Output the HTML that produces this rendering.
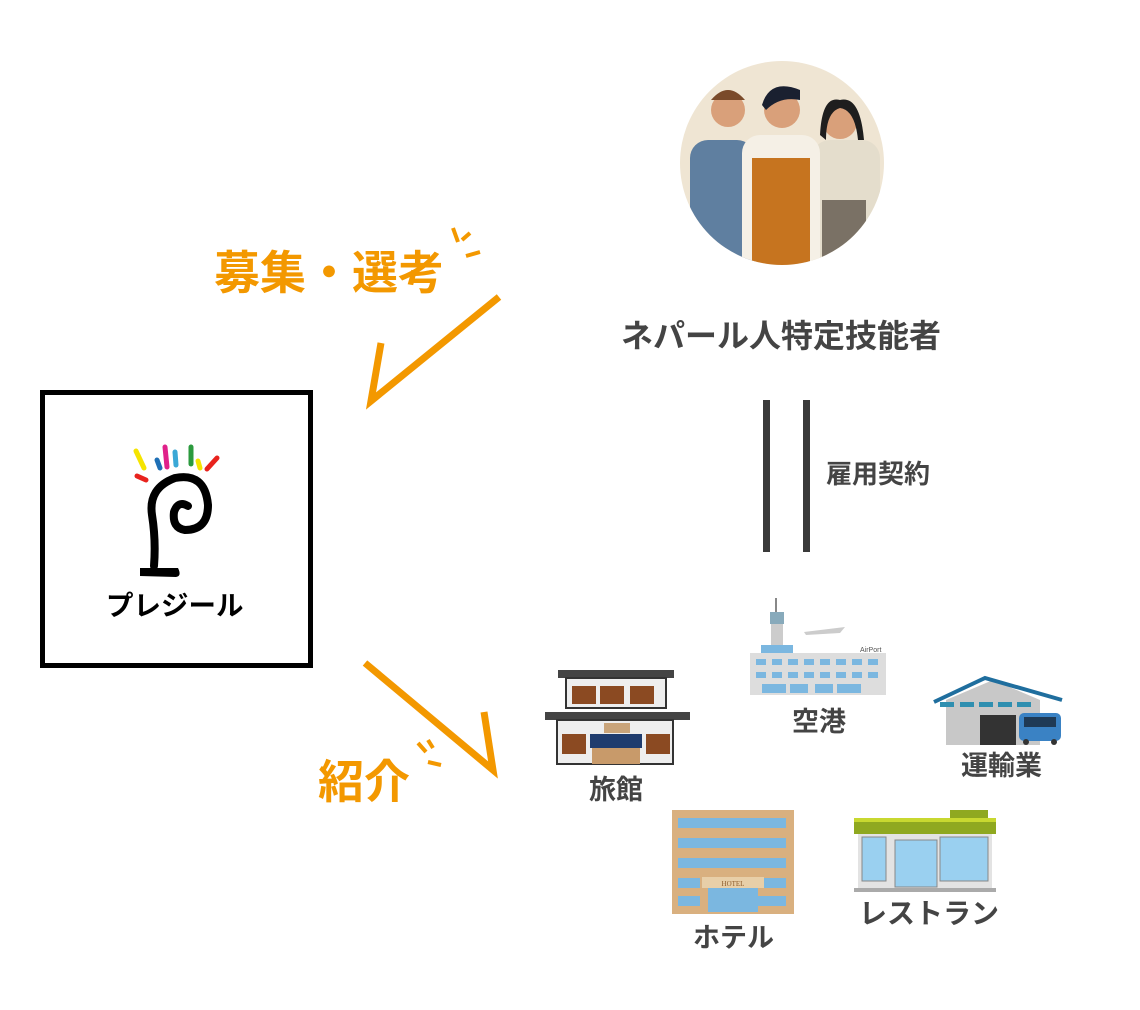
<!DOCTYPE html>
<html><head><meta charset="utf-8"><style>
html,body{margin:0;padding:0;background:#fff;}
body{width:1140px;height:1010px;position:relative;overflow:hidden;font-family:"Liberation Sans","Noto Sans CJK JP",sans-serif;}
.t{position:absolute;font-weight:bold;white-space:nowrap;line-height:1.2;}
</style></head><body>
<svg width="1140" height="1010" style="position:absolute;left:0;top:0">
<rect x="42.5" y="392.5" width="268" height="273" fill="none" stroke="#000" stroke-width="5"/>
<g stroke-linecap="round" stroke-width="5">
<line x1="136" y1="451" x2="144" y2="468" stroke="#f5e400"/>
<line x1="137" y1="476" x2="146" y2="480" stroke="#e8231d"/>
<line x1="157" y1="460" x2="160" y2="468" stroke="#1e6fb5"/>
<line x1="165" y1="447" x2="167" y2="467" stroke="#e0218a"/>
<line x1="175" y1="452" x2="176" y2="465" stroke="#3aa8d6"/>
<line x1="191" y1="447" x2="191" y2="464" stroke="#2b9a3e"/>
<line x1="198" y1="461" x2="200" y2="468" stroke="#f5e400"/>
<line x1="217" y1="458" x2="207" y2="469" stroke="#e8231d"/>
</g>
<path d="M154 566 Q156 540 152 515 Q148 488 175 478 Q205 472 208 505 Q208 530 185 530 Q172 528 174 512 Q178 500 188 506" fill="none" stroke="#000" stroke-width="8" stroke-linecap="round"/>
<path d="M140 568 L178 568 Q182 576 176 577 L140 576 Z" fill="#000"/>
<polyline points="381,343 371,401 499,297" fill="none" stroke="#f39800" stroke-width="7"/>
<polyline points="365,663 493,770 484,712" fill="none" stroke="#f39800" stroke-width="7"/>
<g stroke="#f39800" stroke-width="4">
<line x1="453" y1="228" x2="458" y2="242"/><line x1="462" y1="240" x2="470" y2="233"/><line x1="466" y1="256" x2="480" y2="252"/>
<line x1="418" y1="743" x2="426" y2="752"/><line x1="428" y1="740" x2="433" y2="748"/><line x1="428" y1="762" x2="441" y2="765"/>
</g>
<rect x="763" y="400" width="7" height="152" fill="#3a3a3a"/>
<rect x="803" y="400" width="7" height="152" fill="#3a3a3a"/>
<clipPath id="c"><circle cx="782" cy="163" r="102"/></clipPath>
<circle cx="782" cy="163" r="102" fill="#efe5d3"/>
<g clip-path="url(#c)">
<rect x="690" y="140" width="65" height="140" rx="18" fill="#5f7fa0"/>
<circle cx="728" cy="110" r="17" fill="#d9a07a"/><path d="M711 100 Q728 80 745 100 Z" fill="#7a4a2a"/>
<rect x="812" y="140" width="68" height="140" rx="18" fill="#e4ddcc"/>
<rect x="822" y="200" width="44" height="80" fill="#7a7165"/>
<circle cx="840" cy="122" r="17" fill="#d9a07a"/><path d="M820 135 Q822 95 840 100 Q860 95 864 140 L858 140 Q855 110 840 108 Q826 112 826 140 Z" fill="#1e1e1e"/>
<rect x="742" y="135" width="78" height="140" rx="18" fill="#f5f0e6"/>
<rect x="752" y="158" width="58" height="120" fill="#c6741f"/>
<circle cx="782" cy="110" r="18" fill="#d9a07a"/><path d="M762 105 Q770 78 800 90 L800 100 Q780 96 766 110 Z" fill="#1a2030"/>
</g>
<g>
<rect x="558" y="670" width="116" height="8" fill="#444"/>
<rect x="566" y="678" width="100" height="30" fill="#eee" stroke="#333" stroke-width="2"/>
<g fill="#8b4a22"><rect x="572" y="686" width="24" height="18"/><rect x="600" y="686" width="24" height="18"/><rect x="630" y="686" width="24" height="18"/></g>
<rect x="545" y="712" width="145" height="8" fill="#444"/>
<rect x="557" y="720" width="116" height="44" fill="#eee" stroke="#333" stroke-width="2"/>
<rect x="590" y="734" width="52" height="14" fill="#1f3c6e"/>
<rect x="592" y="748" width="48" height="16" fill="#c89a6a"/>
<rect x="604" y="723" width="26" height="10" fill="#c9a47a"/>
<g fill="#8b4a22"><rect x="562" y="734" width="24" height="20"/><rect x="646" y="734" width="24" height="20"/></g>
</g>
<g>
<line x1="776" y1="598" x2="776" y2="612" stroke="#888" stroke-width="2"/>
<rect x="770" y="612" width="14" height="12" fill="#8ab"/><rect x="771" y="624" width="12" height="26" fill="#ccc"/>
<rect x="761" y="645" width="32" height="8" fill="#7bb7e0"/>
<path d="M804 632 L845 627 L840 633 L806 635 Z" fill="#ccc"/>
<rect x="750" y="653" width="136" height="42" fill="#ddd"/>
<g fill="#7bb7e0"><rect x="756" y="659" width="10" height="6"/><rect x="772" y="659" width="10" height="6"/><rect x="788" y="659" width="10" height="6"/><rect x="804" y="659" width="10" height="6"/><rect x="820" y="659" width="10" height="6"/><rect x="836" y="659" width="10" height="6"/><rect x="852" y="659" width="10" height="6"/><rect x="868" y="659" width="10" height="6"/>
<rect x="756" y="672" width="10" height="6"/><rect x="772" y="672" width="10" height="6"/><rect x="788" y="672" width="10" height="6"/><rect x="804" y="672" width="10" height="6"/><rect x="820" y="672" width="10" height="6"/><rect x="836" y="672" width="10" height="6"/><rect x="852" y="672" width="10" height="6"/><rect x="868" y="672" width="10" height="6"/>
<rect x="762" y="684" width="24" height="9"/><rect x="790" y="684" width="18" height="9"/><rect x="815" y="684" width="18" height="9"/><rect x="837" y="684" width="24" height="9"/></g>
<text x="860" y="652" font-size="7" fill="#555" font-family="Liberation Sans">AirPort</text>
</g>
<g>
<path d="M946 700 L993 680 L1040 700 L1040 745 L946 745 Z" fill="#c8c8c8"/>
<polyline points="934,702 985,678 1062,700" fill="none" stroke="#1f6e9e" stroke-width="4"/>
<g fill="#2f8fb0"><rect x="940" y="702" width="14" height="5"/><rect x="960" y="702" width="14" height="5"/><rect x="979" y="702" width="14" height="5"/><rect x="998" y="702" width="14" height="5"/><rect x="1017" y="702" width="14" height="5"/></g>
<rect x="980" y="715" width="36" height="30" fill="#333"/>
<rect x="1019" y="713" width="42" height="28" rx="5" fill="#3a82c4"/><rect x="1024" y="717" width="32" height="10" fill="#1f3a55"/>
<circle cx="1026" cy="742" r="3" fill="#333"/><circle cx="1054" cy="742" r="3" fill="#333"/>
</g>
<g>
<rect x="672" y="810" width="122" height="104" fill="#d9b07f"/>
<g fill="#7bb7e0">
<rect x="678" y="818" width="108" height="10"/><rect x="678" y="838" width="108" height="10"/><rect x="678" y="858" width="108" height="10"/>
<rect x="678" y="878" width="22" height="10"/><rect x="758" y="878" width="28" height="10"/><rect x="678" y="896" width="22" height="10"/><rect x="758" y="896" width="28" height="10"/>
<rect x="708" y="888" width="50" height="24"/></g>
<rect x="702" y="877" width="62" height="11" fill="#e8cfa8"/>
<text x="733" y="886" font-size="7" fill="#8b5a2a" text-anchor="middle" font-family="Liberation Serif">HOTEL</text>
</g>
<g>
<rect x="950" y="810" width="38" height="8" fill="#8fa820"/>
<rect x="854" y="818" width="142" height="16" fill="#8fa820"/>
<rect x="854" y="818" width="142" height="4" fill="#c8d830"/>
<rect x="858" y="834" width="134" height="54" fill="#e3e3e3"/>
<rect x="862" y="837" width="24" height="44" fill="#9ad0f0" stroke="#888"/>
<rect x="895" y="840" width="42" height="47" fill="#9ad0f0" stroke="#888"/>
<rect x="940" y="837" width="48" height="44" fill="#9ad0f0" stroke="#888"/>
<rect x="854" y="888" width="142" height="4" fill="#aaa"/>
</g>
</svg>
<div class="t" style="left:214px;top:248px;font-size:46px;color:#f39800;line-height:1.1">募集・選考</div>
<div class="t" style="left:318px;top:757px;font-size:46px;color:#f39800;line-height:1.1">紹介</div>
<div class="t" style="left:106px;top:589px;font-size:27.5px;color:#000">プレジール</div>
<div class="t" style="left:621px;top:317px;font-size:32px;color:#444">ネパール人特定技能者</div>
<div class="t" style="left:826px;top:459px;font-size:26px;color:#444">雇用契約</div>
<div class="t" style="left:589px;top:774px;font-size:27px;color:#444">旅館</div>
<div class="t" style="left:792px;top:706px;font-size:27px;color:#444">空港</div>
<div class="t" style="left:961px;top:750px;font-size:27px;color:#444">運輸業</div>
<div class="t" style="left:693px;top:922px;font-size:27px;color:#444">ホテル</div>
<div class="t" style="left:859px;top:897px;font-size:28px;color:#444">レストラン</div>
</body></html>
